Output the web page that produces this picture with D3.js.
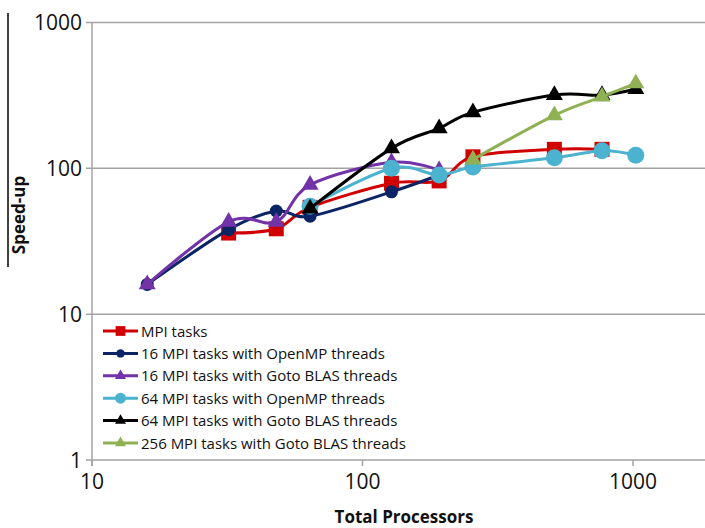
<!DOCTYPE html>
<html>
<head>
<meta charset="utf-8">
<script src="https://cdn.jsdelivr.net/npm/d3@7"></script>
<style>
  body { margin: 0; background: #fff; }
  svg { display: block; font-family: "Open Sans", sans-serif; }
</style>
</head>
<body>
<div id="chart"></div>
<script>
// values
var mpiX = [32, 48, 64, 128, 192, 256, 512, 768];
var mpiY = [36, 38.5, 54, 79, 82, 120, 135, 135];

var omp16X = [16, 32, 48, 64, 128, 192];
var omp16Y = [16, 38, 51, 47, 69, 90];

var goto16X = [16, 32, 48, 64, 128, 192];
var goto16Y = [16, 43, 43, 77, 110, 97];

var omp64X = [64, 128, 192, 256, 512, 768, 1024];
var omp64Y = [55, 100, 90, 102, 118, 132, 123];

var goto64X = [64, 128, 192, 256, 512, 768, 1024];
var goto64Y = [53, 137, 188, 242, 318, 318, 350];

var goto256X = [256, 512, 768, 1024];
var goto256Y = [115, 231, 310, 382];

var xTicks = [10, 100, 1000];
var yTicks = [1, 10, 100, 1000];

var series = [
  {name: "MPI tasks", xs: mpiX, ys: mpiY, color: "#d00000", shape: "square", size: 15},
  {name: "16 MPI tasks with OpenMP threads", xs: omp16X, ys: omp16Y, color: "#0a2466", shape: "circle", size: 13},
  {name: "16 MPI tasks with Goto BLAS threads", xs: goto16X, ys: goto16Y, color: "#7232a8", shape: "triangle", size: 17},
  {name: "64 MPI tasks with OpenMP threads", xs: omp64X, ys: omp64Y, color: "#4bb3d0", shape: "circle", size: 17},
  {name: "64 MPI tasks with Goto BLAS threads", xs: goto64X, ys: goto64Y, color: "#000000", shape: "triangle", size: 17},
  {name: "256 MPI tasks with Goto BLAS threads", xs: goto256X, ys: goto256Y, color: "#8fb153", shape: "triangle", size: 17}
];

var W = 705, H = 528;
var svg = d3.select("#chart").append("svg").attr("width", W).attr("height", H);

var x = d3.scaleLog().domain([10, 1000]).range([92, 633]);
var y = d3.scaleLog().domain([1, 1000]).range([460, 22.5]);

var grid = "#a3a3a3";

// horizontal grid lines
svg.append("g").selectAll("line").data(yTicks).enter().append("line")
  .attr("x1", 86).attr("x2", W)
  .attr("y1", function(d){ return y(d); }).attr("y2", function(d){ return y(d); })
  .attr("stroke", grid).attr("stroke-width", 1.5);

// left axis
svg.append("line").attr("x1", 92).attr("x2", 92).attr("y1", y(1000)).attr("y2", y(1) + 6)
  .attr("stroke", grid).attr("stroke-width", 1.5);

// x ticks
svg.append("g").selectAll("line").data(xTicks).enter().append("line")
  .attr("x1", function(d){ return x(d); }).attr("x2", function(d){ return x(d); })
  .attr("y1", y(1)).attr("y2", y(1) + 6)
  .attr("stroke", grid).attr("stroke-width", 1.5);

svg.append("g").selectAll("text").data(xTicks).enter().append("text")
  .attr("x", function(d){ return x(d); }).attr("y", 489)
  .attr("text-anchor", "middle").style("font-size", "21px").attr("fill", "#111")
  .text(function(d){ return d; });

svg.append("g").selectAll("text").data(yTicks).enter().append("text")
  .attr("x", 82).attr("y", function(d){ return y(d) + 7.5; })
  .attr("text-anchor", "end").style("font-size", "21px").attr("fill", "#111")
  .text(function(d){ return d; });

// axis titles
svg.append("text").attr("x", 404).attr("y", 523).attr("text-anchor", "middle")
  .style("font-size", "17px").style("font-weight", "bold").attr("fill", "#111")
  .text("Total Processors");
svg.append("text").attr("transform", "translate(25,215) rotate(-90)").attr("text-anchor", "middle")
  .style("font-size", "17px").style("font-weight", "bold").attr("fill", "#111")
  .text("Speed-up");
// stray black rule at the left edge of the picture
svg.append("line").attr("x1", 8).attr("x2", 8).attr("y1", 13).attr("y2", 267)
  .attr("stroke", "#000").attr("stroke-width", 1.5);

function marker(g, shape, size, color) {
  if (shape === "circle") {
    return g.append("circle").attr("r", size / 2).attr("fill", color);
  }
  var sym = shape === "square" ? d3.symbolSquare : d3.symbolTriangle;
  var area = shape === "square" ? size * size : size * size * 0.433;
  return g.append("path").attr("d", d3.symbol().type(sym).size(area)()).attr("fill", color);
}

var line = d3.line()
  .x(function(d){ return x(d[0]); })
  .y(function(d){ return y(d[1]); })
  .curve(d3.curveCatmullRom.alpha(0));

series.forEach(function(s) {
  var pts = s.xs.map(function(v, i){ return [v, s.ys[i]]; });
  var g = svg.append("g");
  g.append("path").datum(pts).attr("d", line)
    .attr("fill", "none").attr("stroke", s.color).attr("stroke-width", 3);
  pts.forEach(function(p) {
    var m = g.append("g").attr("transform", "translate(" + x(p[0]) + "," + y(p[1]) + ")");
    marker(m, s.shape, s.size, s.color);
  });
});

// legend
var leg = svg.append("g");
series.forEach(function(s, i) {
  var ly = 331 + i * 22.4;
  leg.append("line").attr("x1", 103).attr("x2", 138).attr("y1", ly).attr("y2", ly)
    .attr("stroke", s.color).attr("stroke-width", 3);
  var m = leg.append("g").attr("transform", "translate(120.5," + ly + ")");
  marker(m, s.shape, s.size * 0.65, s.color);
  leg.append("text").attr("x", 141).attr("y", ly + 5.5)
    .style("font-size", "15px").attr("fill", "#111").text(s.name);
});
</script>
</body>
</html>
